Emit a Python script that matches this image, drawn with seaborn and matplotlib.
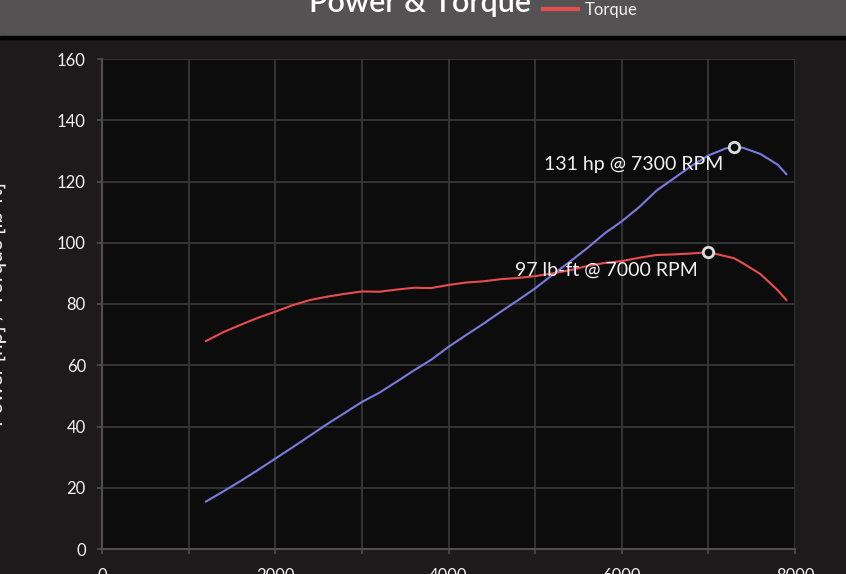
import pandas as pd
import numpy as np
import matplotlib
matplotlib.use("Agg")
import matplotlib.pyplot as plt
from matplotlib.patches import Rectangle
from matplotlib.ticker import MultipleLocator
import seaborn as sns

# Data
rpm = [1200, 1400, 1600, 1800, 2000, 2200, 2400, 2600, 2800, 3000, 3200, 3400,
       3600, 3800, 4000, 4200, 4400, 4600, 4800, 5000, 5200, 5400, 5600, 5800,
       6000, 6200, 6400, 6600, 6800, 7000, 7200, 7300, 7400, 7600, 7800, 7900]
power_hp = [15.5, 18.8, 22.2, 25.8, 29.5, 33.2, 37.0, 40.8, 44.4, 48.0, 51.0, 54.6,
            58.3, 61.8, 66.0, 69.8, 73.5, 77.4, 81.2, 85.1, 89.5, 93.8, 98.2, 103.0,
            107.0, 111.6, 117.0, 121.0, 125.0, 128.5, 130.8, 131.4, 131.0, 129.0, 125.5, 122.4]
torque_lbft = [67.9, 70.8, 73.2, 75.5, 77.5, 79.6, 81.3, 82.4, 83.3, 84.1, 84.0, 84.7,
               85.3, 85.2, 86.2, 87.0, 87.4, 88.1, 88.5, 89.1, 90.0, 91.0, 92.4, 93.4,
               94.0, 95.1, 96.0, 96.2, 96.5, 96.9, 95.6, 94.9, 93.3, 89.8, 84.5, 81.3]

df = pd.DataFrame({"RPM": rpm, "Power": power_hp, "Torque": torque_lbft})
long_df = df.melt(id_vars="RPM", var_name="Series", value_name="Value")

plt.rcParams["font.family"] = ["Lato", "DejaVu Sans"]
txt = "#f2f2f2"

fig = plt.figure(figsize=(8.46, 5.74), dpi=100, facecolor="#1c1a1b")
W, H = 846, 574

# header band
fig.patches.append(Rectangle((0, 1 - 37 / H), 1, 37 / H, transform=fig.transFigure,
                             color="#545253", zorder=0))
fig.patches.append(Rectangle((0, 1 - 39 / H), 1, 2.5 / H, transform=fig.transFigure,
                             color="#000000", zorder=0))

ax = fig.add_axes([102 / W, 25 / H, 693 / W, 490 / H])
ax.set_facecolor("#0c0c0c")

colors = {"Power": "#7a7ae0", "Torque": "#e84c4f"}
sns.lineplot(data=long_df, x="RPM", y="Value", hue="Series", palette=colors,
             linewidth=1.5, ax=ax, legend=False)

ax.set_xlim(0, 8000)
ax.set_ylim(0, 160)
ax.xaxis.set_major_locator(MultipleLocator(2000))
ax.xaxis.set_minor_locator(MultipleLocator(1000))
ax.yaxis.set_major_locator(MultipleLocator(20))
ax.grid(which="both", color="#3a3a3a", linewidth=1.2)
ax.set_axisbelow(True)
for s in ["top", "right"]:
    ax.spines[s].set_visible(False)
for s in ["left", "bottom"]:
    ax.spines[s].set_color("#4e4e4e")
    ax.spines[s].set_linewidth(1.5)
ax.tick_params(which="both", color="#4e4e4e", length=3.6, width=1.2, labelcolor=txt,
               labelsize=12)
ax.tick_params(axis="y", pad=8)
ax.tick_params(axis="x", which="major", pad=10)
ax.set_xlabel("")
ax.set_ylabel("")

# peak markers and labels
p_i = df["Power"].idxmax()
t_i = df["Torque"].idxmax()
peaks = [(df.loc[p_i, "RPM"], df.loc[p_i, "Power"], f"{round(df.loc[p_i, 'Power'])} hp @ {df.loc[p_i, 'RPM']} RPM"),
         (df.loc[t_i, "RPM"], df.loc[t_i, "Torque"], f"{round(df.loc[t_i, 'Torque'])} lb-ft @ {df.loc[t_i, 'RPM']} RPM")]
for x, y, label in peaks:
    ax.plot(x, y, marker="o", ms=7.5, mfc="#0c0c0c", mec="#dcdcdc", mew=2, zorder=5)
    ax.annotate(label, (x, y), xytext=(-8, -13), textcoords="offset points",
                ha="right", va="center", color=txt, fontsize=14)

# title and legend in header
fig.text(420 / W, 1 - 12 / H, "Power & Torque", ha="center", va="baseline",
         color="#ffffff", fontsize=22, fontweight="semibold")
handles = [plt.Line2D([], [], color=colors["Power"], lw=3),
           plt.Line2D([], [], color=colors["Torque"], lw=3)]
fig.legend(handles, ["Power", "Torque"], loc="lower left",
           bbox_to_anchor=(543 / W, 1 - 18 / H), frameon=False, borderpad=0,
           borderaxespad=0, fontsize=12, handlelength=2.1, handletextpad=0.4,
           labelcolor=txt)

fig.text(7 / W, 1 - 304 / H, "Power [hp] / Torque [lb-ft]", rotation=90,
         ha="right", va="center", color=txt, fontsize=15)

fig.savefig("out.png", dpi=100, facecolor=fig.get_facecolor())
